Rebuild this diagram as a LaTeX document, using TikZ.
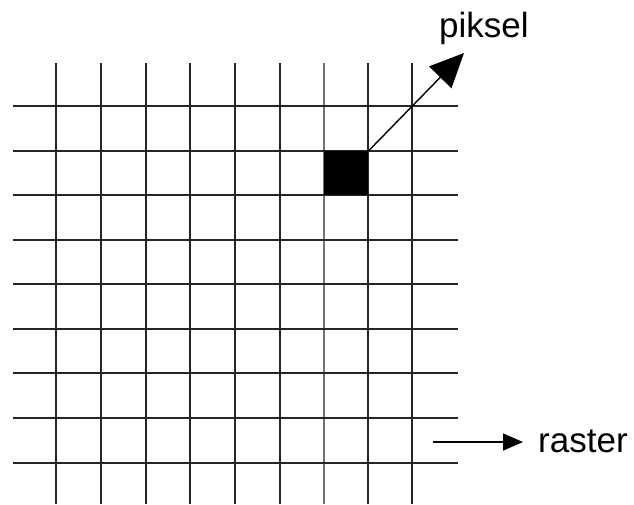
\documentclass[tikz,border=0pt]{standalone}
\usepackage{fontspec}
\setmainfont{Liberation Sans}
\usetikzlibrary{arrows.meta}
\begin{document}
\begin{tikzpicture}[x=1pt,y=-1pt,
  gridline/.style={line width=2.2pt,draw=black!85},
  lbl/.style={inner sep=0pt,anchor=base west,font=\fontsize{35}{40}\selectfont},
  bigarrow/.style={line width=1.4pt,-{Triangle[length=34pt,width=31pt]}},
  smallarrow/.style={line width=1.4pt,-{Triangle[length=20pt,width=17pt]}}]
\useasboundingbox (0,0) rectangle (634,504);
\foreach \x in {56,101,146,190,235,280,368,412}
  \draw[gridline] (\x,63) -- (\x,504);
\draw[gridline,draw=black!55] (324,63) -- (324,504);
\foreach \y in {106,151,195,240,284,329,373,418,463}
  \draw[gridline] (13,\y) -- (458,\y);
\node[fill=black,minimum width=44pt,minimum height=44pt,inner sep=0pt,anchor=north west] (pix) at (324,151) {};
\node[lbl] (piksel) at (439,37) {piksel};
\node[lbl] (raster) at (538,452) {raster};
\coordinate (ptip) at (464,53);
\coordinate (rs) at (433,442);
\coordinate (rtip) at (523,442);
\draw[bigarrow] (pix.north east) -- (ptip);
\draw[smallarrow] (rs) -- (rtip);
\end{tikzpicture}
\end{document}
